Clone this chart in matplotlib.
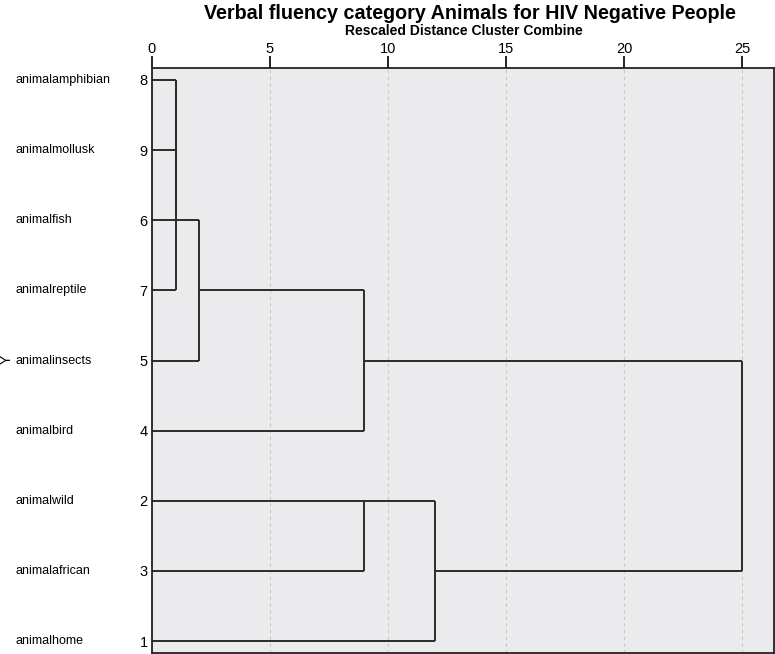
import numpy as np
import matplotlib.pyplot as plt

plt.rcParams['font.family'] = ['Liberation Sans', 'DejaVu Sans']

# leaves, top to bottom
leaf_names = ['animalamphibian', 'animalmollusk', 'animalfish', 'animalreptile',
              'animalinsects', 'animalbird', 'animalwild', 'animalafrican', 'animalhome']
leaf_ids = [8, 9, 6, 7, 5, 4, 2, 3, 1]

# merges: node a, node b, rescaled distance (nodes 0-8 are leaves, 9+ are clusters)
merge_a = [0, 9, 10, 11, 12, 6, 14, 13]
merge_b = [1, 2, 3, 4, 5, 7, 8, 15]
merge_h = [1, 1, 1, 2, 9, 9, 12, 25]

n = len(leaf_names)
row = list(range(n))
height = [0] * n

fig = plt.figure(figsize=(7.75, 6.54), dpi=100)
ax = fig.add_axes([0.196, 0.0015, 0.8027, 0.8945])
ax.set_facecolor('#ebebed')

lc = '#2b2b2b'
for a, b, h in zip(merge_a, merge_b, merge_h):
    ya, yb = row[a], row[b]
    ax.plot([height[a], h], [ya, ya], color=lc, lw=1.4, solid_capstyle='butt')
    ax.plot([height[b], h], [yb, yb], color=lc, lw=1.4, solid_capstyle='butt')
    ax.plot([h, h], [ya, yb], color=lc, lw=1.4, solid_capstyle='butt')
    row.append((ya + yb) // 2)
    height.append(h)

ax.set_xlim(0, 26.35)
ax.set_ylim(n - 1 + 0.17, -0.17)
ax.set_xticks([0, 5, 10, 15, 20, 25])
ax.xaxis.tick_top()
ax.tick_params(axis='x', direction='out', length=9, width=1.2, labelsize=10.5, pad=0)
ax.set_yticks(range(n))
ax.set_yticklabels([str(i) for i in leaf_ids])
ax.tick_params(axis='y', length=0, labelsize=10.5, pad=3)
ax.grid(axis='x', color='#c8c8c8', ls=(0, (3, 3)), lw=0.8)
ax.set_axisbelow(True)
for s in ax.spines.values():
    s.set_linewidth(1.3)
    s.set_color('#222222')

for i, name in enumerate(leaf_names):
    ax.text(-0.2187, i, name, transform=ax.get_yaxis_transform(), ha='left', va='center', fontsize=9)

fig.text(0.008, 0.45, 'Y', rotation=90, ha='center', va='center', fontsize=10)
fig.text(0.606, 0.98, 'Verbal fluency category Animals for HIV Negative People',
         ha='center', va='center', fontsize=14.2, fontweight='bold')
fig.text(0.599, 0.953, 'Rescaled Distance Cluster Combine',
         ha='center', va='center', fontsize=10, fontweight='bold')

fig.savefig('out.png', dpi=100)
